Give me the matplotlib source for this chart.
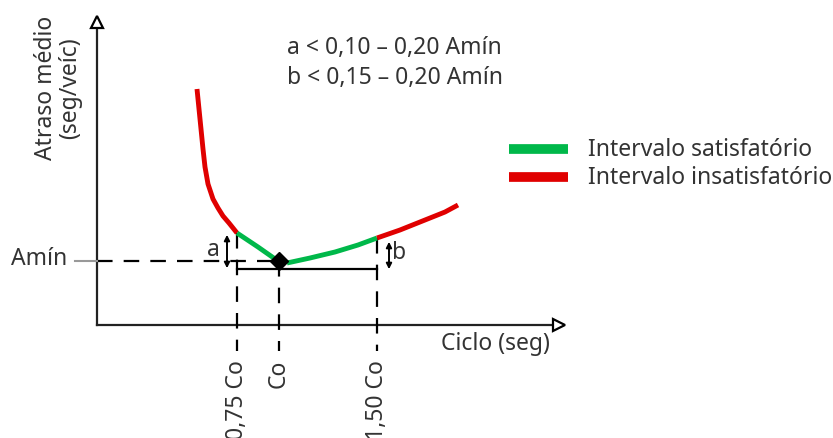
import numpy as np
import matplotlib.pyplot as plt

plt.rcParams['font.family'] = ['Noto Sans', 'DejaVu Sans']

# diagram drawn in picture units (x to the right, y downward)
origin = (97, 326)
y_top = 18
x_right = 563

# delay curve
red_left_x = [197, 199, 201, 203, 205, 208, 213, 218, 223, 229, 237]
red_left_y = [90, 110, 130, 150, 168, 185, 200, 209, 217, 224, 234]
green_left_x = [237, 258, 278]
green_left_y = [234, 248, 262]
green_right_x = [287, 310, 335, 358, 377]
green_right_y = [264, 259, 253, 246, 239]
red_right_x = [377, 400, 425, 445, 458]
red_right_y = [239, 231, 221, 213, 206]

amin_y = 262
co_x = 279
tick_x = [237, 279, 377]
tick_top_y = [234, 262, 239]
tick_labels = ['0,75 Co', 'Co', '1,50 Co']

legend_labels = ['Intervalo satisfatório', 'Intervalo insatisfatório']
green = '#00B84A'
red = '#E00000'
txt = '#333333'
fs = 16.5

fig = plt.figure(figsize=(8.33, 4.39), dpi=100)
ax = fig.add_axes([0, 0, 1, 1])
ax.set_xlim(0, 833)
ax.set_ylim(439, 0)
ax.axis('off')

# axes with open arrowheads
ax.plot([origin[0], origin[0]], [origin[1], y_top + 6], color='#222222', lw=1.6)
ax.plot([origin[0], x_right - 6], [origin[1], origin[1]], color='#222222', lw=1.6)
ax.plot(origin[0], y_top + 5, marker='^', ms=9, mfc='white', mec='black', mew=1.6)
ax.plot(x_right - 4, origin[1], marker='>', ms=9, mfc='white', mec='black', mew=1.6)

# dashed guides
dash = dict(color='black', lw=1.6, dashes=(7, 5))
ax.plot([origin[0], co_x], [amin_y, amin_y], **dash)
ax.plot([75, origin[0]], [amin_y, amin_y], color='#999999', lw=1.5)
for x, yt in zip(tick_x, tick_top_y):
    ax.plot([x, x], [yt, 352], **dash)
ax.plot([tick_x[0], tick_x[2]], [270, 270], color='black', lw=1.6)

# curve
ax.plot(red_left_x, red_left_y, color=red, lw=3.5, solid_capstyle='butt')
ax.plot(green_left_x, green_left_y, color=green, lw=3.5, solid_capstyle='butt')
ax.plot(green_right_x, green_right_y, color=green, lw=3.5, solid_capstyle='butt')
ax.plot(red_right_x, red_right_y, color=red, lw=3.5, solid_capstyle='butt')
ax.plot(co_x, amin_y, marker='D', ms=9, color='black')

# a and b intervals
ax.annotate('', xy=(227, 233), xytext=(227, 272),
            arrowprops=dict(arrowstyle='<|-|>', color='black', lw=1.4, mutation_scale=8))
ax.annotate('', xy=(389, 240), xytext=(389, 273),
            arrowprops=dict(arrowstyle='<|-|>', color='black', lw=1.4, mutation_scale=8))
ax.text(220, 250, 'a', fontsize=fs, ha='right', va='center', color=txt)
ax.text(392, 253, 'b', fontsize=fs, ha='left', va='center', color=txt)

# labels
ax.text(58, 88, 'Atraso médio\n(seg/veíc)', rotation=90, fontsize=fs,
        ha='center', va='center', color=txt, linespacing=1.05)
ax.text(67, 259, 'Amín', fontsize=fs, ha='right', va='center', color=txt)
ax.text(550, 344, 'Ciclo (seg)', fontsize=fs, ha='right', va='center', color=txt)
for x, lab in zip(tick_x, tick_labels):
    ax.text(x, 360, lab, rotation=90, fontsize=fs, ha='center', va='top', color=txt)

ax.text(287, 48, 'a < 0,10 – 0,20 Amín', fontsize=fs, va='center', color=txt)
ax.text(287, 78, 'b < 0,15 – 0,20 Amín', fontsize=fs, va='center', color=txt)

# legend
for yy, col, lab in zip([150, 178], [green, red], legend_labels):
    ax.plot([509, 568], [yy, yy], color=col, lw=7, solid_capstyle='butt')
    ax.text(588, yy, lab, fontsize=fs, va='center', color=txt)

fig.savefig('out.png', dpi=100)
